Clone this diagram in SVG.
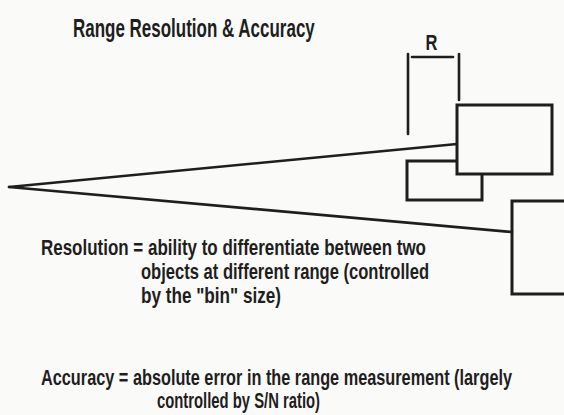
<svg xmlns="http://www.w3.org/2000/svg" width="564" height="415" viewBox="0 0 564 415">
<style>
.bg{fill:#fafaf8}
.ln{stroke:#1e1e1e;stroke-width:2.6;fill:none;stroke-linecap:round}
.box{stroke:#1e1e1e;stroke-width:3;fill:#fafaf8}
.t{font-family:"Liberation Sans",Arial,sans-serif;fill:#1e1e1e;font-size:22px;font-weight:bold}
.title{font-family:"Liberation Sans",Arial,sans-serif;fill:#1e1e1e;font-size:26px;font-weight:bold}
</style>
<rect class="bg" x="0" y="0" width="564" height="415"/>
<text class="title" transform="translate(73,37) scale(0.65,1)" x="0" y="0" textLength="372" lengthAdjust="spacingAndGlyphs">Range Resolution &amp; Accuracy</text>
<g id="connectors">
<line class="ln" x1="9" y1="187" x2="457" y2="144"/>
<line class="ln" x1="9" y1="187" x2="512" y2="232"/>
</g>
<g id="range-bracket">
<line class="ln" x1="408" y1="54" x2="408" y2="134"/>
<line class="ln" x1="459" y1="54" x2="459" y2="100"/>
<line class="ln" x1="412" y1="57" x2="453" y2="57"/>
<text class="t" transform="translate(431.5,50) scale(0.75,1)" x="0" y="0" text-anchor="middle" font-size="16">R</text>
</g>
<g id="target-small"><rect class="box" x="407" y="161" width="75" height="39"/></g>
<g id="target-big"><rect class="box" x="457" y="105" width="95" height="69"/></g>
<g id="target-far"><path class="ln" d="M566 201 H512 V294 H566" style="stroke-width:3"/></g>
<g id="definitions">
<text class="t" transform="translate(41,255) scale(0.72,1)" x="0" y="0" textLength="534.7" lengthAdjust="spacingAndGlyphs">Resolution = ability to differentiate between two</text>
<text class="t" transform="translate(141,279) scale(0.72,1)" x="0" y="0" textLength="400" lengthAdjust="spacingAndGlyphs">objects at different range (controlled</text>
<text class="t" transform="translate(141,303) scale(0.72,1)" x="0" y="0" textLength="194.4" lengthAdjust="spacingAndGlyphs">by the "bin" size)</text>
<text class="t" transform="translate(41,385) scale(0.72,1)" x="0" y="0" textLength="654.2" lengthAdjust="spacingAndGlyphs">Accuracy = absolute error in the range measurement (largely</text>
<text class="t" transform="translate(157,408) scale(0.72,1)" x="0" y="0" textLength="226.4" lengthAdjust="spacingAndGlyphs">controlled by S/N ratio)</text>
</g>
</svg>
